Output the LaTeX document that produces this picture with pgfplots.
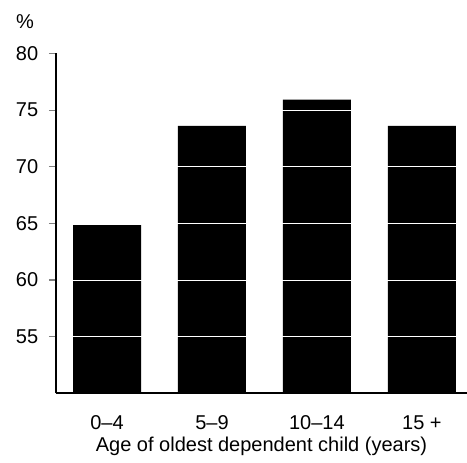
\documentclass[border=0pt]{standalone}
\usepackage{pgfplots}
\pgfplotsset{compat=1.18}
\usepackage{fontspec}
\setmainfont{Liberation Sans}
\begin{document}
\fontsize{20}{24}\selectfont
\begin{tikzpicture}[x=1pt,y=1pt]
\useasboundingbox (0,0) rectangle (467,463);
\begin{axis}[
 at={(56pt,69.7pt)}, anchor=south west,
 scale only axis, width=411pt, height=339.8pt,
 ybar, bar width=0.648,
 xmin=-0.486, xmax=3.43, ymin=50, ymax=80,
 axis x line=bottom, axis y line=left,
 axis line style={-, line width=1.6pt},
 xtick=data, xticklabels={0–4,5–9,10–14,15 +},
 xtick style={draw=none},
 ytick={55,60,...,80},
 ytick style={line width=1.2pt},
 ytick align=outside, major tick length=7pt,
 ymajorgrids, grid style={white, line width=1pt},
 axis on top,
 /pgf/number format/assume math mode=true,
 ticklabel style={font=\fontsize{20}{24}\selectfont},
 yticklabel style={xshift=-4pt},
 xticklabel style={yshift=-12pt},
 xlabel={Age of oldest dependent child (years)},
 xlabel style={yshift=6pt},
 label style={font=\fontsize{20}{24}\selectfont},
]
\addplot[fill=black, draw=none] coordinates {(0,64.85) (1,73.6) (2,75.93) (3,73.6)};
\end{axis}
\node at (25,441) {\fontsize{20}{24}\selectfont\%};
\end{tikzpicture}
\end{document}
